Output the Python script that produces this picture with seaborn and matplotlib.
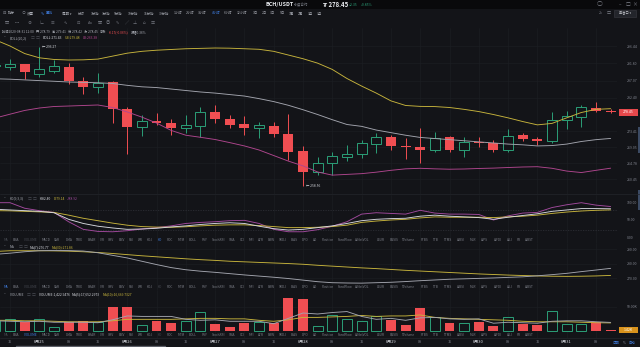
import matplotlib
matplotlib.use("Agg")
import numpy as np
import pandas as pd
import matplotlib.pyplot as plt
import matplotlib.transforms as mtransforms
from matplotlib.patches import Rectangle
from matplotlib.lines import Line2D
import seaborn as sns

# ---------------- data: BCH/USDT perpetual, 4-hour candles ----------------
start_time = "2020-08-24 12:00"
opens = [290.9, 290.84, 291.5, 288.9, 289.8, 290.8, 287.0, 285.4, 286.6, 279.4,
         274.6, 276.2, 275.7, 274.2, 274.8, 278.5, 276.6, 275.3, 274.2, 274.9,
         272.5, 268.0, 262.4, 264.9, 266.3, 267.1, 269.9, 271.7, 269.5, 269.1,
         268.3, 271.7, 268.3, 270.5, 270.3, 268.3, 272.4, 271.4, 270.8, 276.4,
         277.2, 279.6, 278.79]
highs = [291.8, 292.84, 291.7, 296.27, 292.7, 291.8, 288.1, 289.2, 286.9, 280.0,
         277.8, 278.4, 276.6, 277.8, 280.0, 280.5, 277.8, 277.5, 276.0, 276.0,
         278.0, 269.4, 266.5, 267.8, 269.6, 271.0, 272.8, 272.4, 271.5, 274.2,
         273.3, 272.0, 271.9, 271.9, 271.0, 273.9, 272.8, 271.9, 278.7, 278.9,
         280.5, 281.4, 279.41]
lows = [290.3, 289.95, 287.4, 288.1, 289.1, 286.1, 283.4, 283.6, 275.5, 267.2,
        272.2, 275.1, 272.4, 272.8, 271.9, 275.5, 274.3, 272.4, 271.6, 271.9,
        265.6, 258.56, 261.5, 261.5, 265.3, 266.0, 267.4, 268.3, 265.8, 264.7,
        267.8, 267.8, 266.5, 269.2, 267.8, 267.8, 270.7, 269.7, 270.1, 273.9,
        274.4, 278.7, 278.42]
closes = [291.4, 291.57, 289.3, 290.1, 291.0, 286.9, 285.3, 286.5, 279.3, 274.6,
          276.1, 275.7, 274.2, 275.1, 278.5, 276.6, 275.2, 274.3, 275.0, 272.6,
          267.8, 262.4, 264.9, 266.7, 267.1, 270.1, 271.9, 269.4, 269.0, 268.2,
          271.6, 268.3, 270.5, 270.3, 268.3, 272.2, 271.2, 270.8, 276.4, 277.5,
          279.9, 278.9, 278.45]
volume_k = [20, 24, 19.5, 24, 7.6, 19, 21, 18, 49, 48.5,
            12.5, 20.5, 16.5, 21, 38.4, 14, 9, 16, 19, 17,
            68, 65, 11, 33, 24, 21, 31, 22.6, 12.3, 47,
            29, 16, 16, 18.5, 10.3, 28, 13.5, 12.3, 41, 15,
            14, 19, 1.4229476]
last_volume = 1422.9476
prev_close_change = "-0.17(-0.06%)"
day_change = ("+2.35", "+0.85%")

# Bollinger (20, 2)
boll_up = [298.1, 296.44, 294.4, 293.25, 292.8, 292.65, 292.7, 292.9, 293.7, 294.5,
           295.0, 295.3, 295.5, 295.7, 295.8, 295.9, 295.85, 295.7, 295.55, 295.0,
           294.0, 293.0, 291.8, 290.1, 287.65, 285.6, 283.7, 281.6, 280.35, 280.1,
           280.05, 279.8, 279.3, 278.7, 277.9, 277.0, 276.0, 275.1, 275.5, 277.0,
           278.45, 279.3, 279.48]
boll_mid = [287.57, 287.46, 287.27, 287.08, 286.9, 286.7, 286.6, 286.5, 286.3, 285.8,
            285.4, 285.2, 284.8, 284.4, 284.0, 283.7, 283.3, 282.9, 282.2, 281.4,
            280.4, 279.2, 277.9, 276.5, 275.2, 274.7, 273.7, 273.0, 272.3, 271.7,
            271.4, 271.1, 270.8, 270.5, 270.2, 269.9, 269.7, 269.4, 269.5, 269.9,
            270.6, 271.1, 271.43]
boll_low = [276.96, 277.99, 279.0, 279.66, 280.07, 280.2, 280.34, 280.48, 279.8, 278.6,
            277.2, 275.6, 273.6, 272.3, 271.74, 271.14, 270.3, 269.4, 268.3, 266.8,
            265.3, 264.0, 262.35, 261.5, 261.7, 261.9, 262.3, 262.8, 263.2, 263.35,
            263.2, 263.1, 263.16, 263.3, 263.4, 263.56, 263.7, 263.78, 263.35, 262.6,
            262.2, 262.8, 263.38]

# KD (9, 3, 3)
kd_k = [81, 79, 77, 75, 71, 52, 40, 32, 27, 23, 24, 26, 30, 33, 37, 40, 42, 40, 32, 25,
        21, 23, 28, 33, 40, 48, 52, 54, 55, 61, 64, 61, 59, 57, 52, 58, 63, 68, 75, 79,
        83, 83, 82.40]
kd_d = [77, 76.5, 75, 73.5, 72, 64, 55, 48, 41, 35, 31, 29.5, 29, 30.5, 33, 35, 36, 36,
        34, 31, 28, 28, 29, 31, 35, 43, 47, 50, 52, 56, 59, 58, 58, 58, 57, 59, 61, 64,
        69, 73, 76, 78, 79.14]
kd_j = [100, 100, 84, 77, 72, 45, 23, 17, 16, 19, 24, 28, 33, 40, 43, 45, 48, 49, 40,
        23, 16, 16, 22, 32, 45, 67, 71, 69, 67, 78, 70, 67, 67, 66, 50, 62, 70, 72, 86,
        94, 100, 93, 88.92]

# price moving averages
ma7 = [286.5, 287.3, 288.3, 289.0, 289.2, 289.1, 288.8, 287.6, 285.8, 284.0,
       281.7, 279.4, 277.3, 275.8, 274.8, 274.0, 273.1, 272.2, 271.4, 270.6,
       269.7, 268.6, 267.5, 266.8, 266.6, 266.5, 266.8, 267.1, 267.6, 268.2,
       268.7, 269.2, 269.5, 269.8, 270.1, 270.5, 270.9, 271.6, 272.4, 273.3,
       274.5, 275.6, 276.77]
ma30 = [288.5, 289.0, 289.0, 289.0, 288.9, 288.7, 288.3, 287.8, 287.1, 286.3,
        285.5, 284.8, 284.1, 283.4, 282.8, 282.3, 281.7, 281.3, 280.9, 280.5,
        280.1, 279.6, 278.9, 278.3, 277.7, 277.1, 276.6, 276.0, 275.4, 274.9,
        274.4, 273.9, 273.4, 272.9, 272.5, 272.1, 271.8, 271.5, 271.3, 271.2,
        271.3, 271.5, 271.86]

# volume moving averages (thousands)
vol_ma5 = [21, 20, 19, 20, 18, 18, 18, 17, 23, 31, 30, 30, 30, 24, 22, 23, 20, 20, 20,
           15, 26, 37, 35, 38, 40, 30, 24, 26, 22, 27, 28, 25, 24, 25, 16, 18, 17, 16,
           20, 21, 21, 19, 17.6522973]
vol_ma10 = [22, 22, 21, 21, 20, 19, 19, 19, 21, 24, 24, 24, 24, 25, 26, 26, 25, 25, 22,
            20, 23, 28, 28, 29, 30, 32, 30, 31, 31, 33, 28, 26, 25, 24, 23, 22, 20, 19,
            19, 19, 18, 17, 16.6697327]

price_ticks = [296.44, 291.80, 287.07, 282.40, 273.41, 269.05, 264.78, 260.45]
kd_ticks = [0, 50, 100]
ma_ticks = [270, 280, 290]
vol_ticks = [50]

periods = ["分时", "1分钟", "3分钟", "5分钟", "10分钟", "15分钟", "30分钟", "1小时",
           "2小时", "3小时", "4小时", "6小时", "12小时", "1日", "2日", "3日", "5日",
           "1周", "2周", "1月", "3月"]
active_period = "4小时"
indicator_tabs = ["MA", "EMA", "VOLUME", "MACD", "SAR", "DMA", "TRIX", "BRAR", "VR",
                  "OBV", "EMV", "RSI", "WR", "KDJ", "KD", "ROC", "MTM", "BOLL", "PSY",
                  "StochRSI", "SMA", "CCI", "MFI", "ATR", "BBW", "SKDJ", "BIAS", "DPO",
                  "AO", "Position", "FundFlow", "ArNetVOL", "LSUR", "BASIS", "TVolume",
                  "FTBS", "TTB", "TTMS", "AIBSI", "MLR", "AIPS", "AIFDI", "AILI", "FR",
                  "AIBST"]

# ---------------- layout / style ----------------
W, H = 640, 347
PLOT_RIGHT = 617
BG = "#131418"
TOPBAR = "#09090b"
GRID = "#1c1e23"
TXT = "#80838d"
DIM = "#474a52"
WHITE = "#d6d8de"
LIGHT = "#a9acb4"
RED = "#f04e52"
GREEN = "#2b9f77"
YEL = "#c7b43c"
MID = "#a3a5ae"
MAG = "#b0468e"
JCOL = "#a24a9e"
BLUE = "#3f7de0"
ORANGE = "#d9931d"

tab_x = [5.7, 15.5, 30.6, 45.7, 57, 68.6, 79.6, 91.4, 101.6, 110.6, 121.6, 131.4,
         140, 149.8, 160, 169.8, 181.2, 193, 204.5, 218.4, 231.8, 242.4, 251.8, 260.8,
         271, 282.4, 293.9, 304.9, 315, 327.8, 344.9, 362.4, 380.4, 393.9, 408.2,
         424.5, 435.9, 448.2, 461.2, 472.7, 484.5, 498, 509.4, 518.4, 529.8]
period_x = [81.5, 94.5, 106.5, 118.5, 133, 149, 164, 178, 190.5, 202.5, 216.5, 228.5,
            242, 255.5, 264, 273, 282, 291, 300.5, 310, 320]

sns.set_theme(style="dark")
FAM = ["Noto Sans CJK SC", "DejaVu Sans"]
plt.rcParams["font.family"] = FAM
plt.rcParams["axes.unicode_minus"] = False

n = len(opens)
pos = np.arange(n) - 1          # first candle is clipped by the left edge
times = pd.date_range(start_time, periods=n, freq="4h")
XLIM = ((0 - 10) / 14.65, (PLOT_RIGHT - 10) / 14.65)

fig = plt.figure(figsize=(W / 100, H / 100), dpi=100, facecolor=BG)
renderer = fig.canvas.get_renderer()


def label(x, y, s, size=2.4, color=TXT, ha="left", weight="normal", **kw):
    return fig.text(x / W, 1 - y / H, s, fontsize=size, color=color, ha=ha,
                    va="center", fontweight=weight, family=FAM, **kw)


def row(x, y, parts, size=2.3, gap=2.5):
    """Lay out coloured text pieces one after another along a line."""
    for s, c in parts:
        t = label(x, y, s, size, c)
        x = t.get_window_extent(renderer).x1 + gap
    return x


def pane(top, bottom, ylim):
    ax = fig.add_axes([0, 1 - bottom / H, PLOT_RIGHT / W, (bottom - top) / H])
    ax.set_facecolor(BG)
    ax.set_xlim(XLIM)
    ax.set_ylim(ylim)
    for s in ax.spines.values():
        s.set_visible(False)
    ax.yaxis.tick_right()
    ax.tick_params(axis="y", length=0, labelsize=2.5, labelcolor=TXT, pad=7)
    ax.tick_params(axis="x", length=0, labelbottom=False)
    ax.set_xticks(np.arange(0, 42, 2))
    ax.grid(True, color=GRID, lw=0.45)
    ax.set_axisbelow(True)
    return ax


def line(ax, values, color, lw=0.65):
    sns.lineplot(x=pos, y=values, ax=ax, color=color, linewidth=lw, legend=False,
                 estimator=None, sort=False, zorder=4)
    ax.set_xlabel("")
    ax.set_ylabel("")


def right_box(ax, value, text, face, half_h, txtcolor="white"):
    tr = mtransforms.blended_transform_factory(ax.transAxes, ax.transData)
    x0 = 619 / PLOT_RIGHT
    x1 = 638 / PLOT_RIGHT
    ax.add_patch(Rectangle((x0, value - half_h), x1 - x0, 2 * half_h, transform=tr,
                           facecolor=face, edgecolor="none", clip_on=False, zorder=6))
    ax.text((x0 + x1) / 2, value, text, transform=tr, ha="center", va="center",
            fontsize=2.5, color=txtcolor, clip_on=False, zorder=7)


# top title bar
fig.add_artist(Rectangle((0, 1 - 9 / H), 1, 9 / H, transform=fig.transFigure,
                         facecolor=TOPBAR, edgecolor="none"))

# ---------------- main pane: candles + BOLL ----------------
ax = pane(28, 194, (308.89 - 0.2706 * 194, 308.89 - 0.2706 * 28))
ax.set_yticks(price_ticks)
ax.set_yticklabels([f"{v:.2f}" for v in price_ticks])
for x, o, h, l, c in zip(pos, opens, highs, lows, closes):
    up = c >= o
    col = GREEN if up else RED
    ax.vlines(x, l, h, color=col, lw=0.7, zorder=2)
    lo, hi = min(o, c), max(o, c)
    ax.bar(x, max(hi - lo, 0.18), bottom=lo, width=0.68,
           color=BG if up else RED, edgecolor=col,
           linewidth=0.7 if up else 0, zorder=3)
line(ax, boll_up, YEL)
line(ax, boll_mid, MID)
line(ax, boll_low, MAG)

hi_i = int(np.argmax(highs))
lo_i = int(np.argmin(lows))
ax.text(pos[hi_i] + 0.2, highs[hi_i], f"← {highs[hi_i]:.2f}", fontsize=2.4,
        color=WHITE, va="center", ha="left", zorder=6)
ax.text(pos[lo_i] + 0.2, lows[lo_i], f"← {lows[lo_i]:.2f}", fontsize=2.4,
        color=WHITE, va="center", ha="left", zorder=6)
right_box(ax, closes[-1], f"{closes[-1]:.2f}", "#e5484b", 0.85)

# ---------------- KD pane ----------------
ax_kd = pane(195, 243, ((237.3 - 243) * 2.89, (237.3 - 195) * 2.89))
ax_kd.set_yticks(kd_ticks)
ax_kd.set_yticklabels([f"{v:.2f}" for v in kd_ticks])
ax_kd.grid(False, axis="y")
for lvl in (20, 80):
    ax_kd.axhline(lvl, color="#34363d", lw=0.45, ls=(0, (2, 2)), zorder=1)
line(ax_kd, kd_j, JCOL)
line(ax_kd, kd_d, YEL)
line(ax_kd, kd_k, WHITE)

# ---------------- MA pane ----------------
ax_ma = pane(243, 290, (280 - (290 - 263.7) / 1.44, 280 - (243 - 263.7) / 1.44))
ax_ma.set_yticks(ma_ticks)
ax_ma.set_yticklabels([f"{v:.2f}" for v in ma_ticks])
line(ax_ma, ma30, YEL)
line(ax_ma, ma7, MID)

# ---------------- volume pane ----------------
ax_v = pane(290, 338, ((331 - 338) / 0.486, (331 - 290) / 0.486))
ax_v.set_yticks(vol_ticks)
ax_v.set_yticklabels([f"{v:.2f}K" for v in vol_ticks])
for x, o, c, v in zip(pos, opens, closes, volume_k):
    up = c >= o
    col = GREEN if up else RED
    ax_v.bar(x, v, bottom=0, width=0.68, color=BG if up else RED, edgecolor=col,
             linewidth=0.7 if up else 0, zorder=3)
line(ax_v, vol_ma10, YEL)
line(ax_v, vol_ma5, MID)
right_box(ax_v, volume_k[-1], f"{volume_k[-1]:.2f}K", ORANGE, 6.2)

# ---------------- time axis ----------------
ax_t = fig.add_axes([0, 0, PLOT_RIGHT / W, 9 / H])
ax_t.set_facecolor(BG)
ax_t.set_xlim(XLIM)
ax_t.set_ylim(0, 1)
ax_t.axis("off")
for x, t in zip(pos, times):
    if t.hour == 0:
        ax_t.text(x, 0.55, f"{t.month}月{t.day}", fontsize=2.9, color=WHITE,
                  ha="center", va="center", family=FAM)
    elif t.hour in (8, 16):
        ax_t.text(x, 0.55, f"{t.hour:02d}", fontsize=2.7, color=TXT,
                  ha="center", va="center", family=FAM)
fig.add_artist(Line2D([16 / W, 165 / W], [1 - 345.8 / H] * 2, color="#5d6068",
                      lw=1.0, transform=fig.transFigure))
label(616, 342.5, "日期", 2.4, BLUE, ha="center")
label(624, 342.5, "%", 2.4, TXT, ha="center")
label(632, 342.5, "自动", 2.4, BLUE, ha="center")

# pane separators and scroll markers on the right edge
for y in (194.5, 337.5):
    fig.add_artist(Line2D([0, 1], [1 - y / H] * 2, color="#24262c", lw=0.5,
                          transform=fig.transFigure))
for y0, y1 in ((127, 153), (190, 210)):
    fig.add_artist(Rectangle((637.5 / W, 1 - y1 / H), 2.5 / W, (y1 - y0) / H,
                             transform=fig.transFigure, facecolor="#3b4a63",
                             edgecolor="none"))

# ---------------- header rows ----------------
label(266, 4.6, "BCH/USDT", 3.9, "#eceef2", weight="bold")
label(294, 4.8, "永续合约", 2.6, TXT)
label(323, 4.6, f"₮ {closes[-1]:.2f}", 4.3, "#eceef2", weight="bold")
label(349, 4.8, day_change[0], 2.5, GREEN)
label(361, 4.8, day_change[1], 2.5, GREEN)
label(600, 4.6, "○", 4.2, TXT, ha="center")
label(620, 4.6, "–", 3.4, TXT, ha="center")
label(627.5, 4.6, "□", 3.4, TXT, ha="center")
label(635, 4.6, "×", 3.6, TXT, ha="center")

label(2.5, 13.5, "⊟", 3.0, TXT)
label(8, 13.5, "指标", 2.5, LIGHT)
label(21.5, 13.5, "⊙", 3.0, TXT)
label(27, 13.5, "设置", 2.5, LIGHT)
label(41, 13.5, "✎", 3.0, BLUE)
label(46, 13.5, "画线", 2.5, BLUE)
label(62, 13.5, "周期 ▾", 2.5, LIGHT)
for x, p in zip(period_x, periods):
    label(x, 13.5, p, 2.4, BLUE if p == active_period else "#a2a5ad", ha="center")
label(601, 13.5, "2x", 2.5, TXT, ha="center")
label(608.5, 13.5, "□", 3.0, TXT, ha="center")
fig.add_artist(Rectangle((614 / W, 1 - 17 / H), 22 / W, 7 / H, transform=fig.transFigure,
                         facecolor="#23252b", edgecolor="#3a3c43", lw=0.4))
label(625, 13.5, "单窗口 ▾", 2.3, "#c4c6cc", ha="center")

tool_icons = ["▤", "┄", "⊕", "∟", "☰", "∿", "⊡", "Aa", "▦", "◎", "✎", "╱", "⊥", "⌂", "▥"]
tool_x = [7, 17, 30, 41, 53, 65, 78, 90, 100, 108, 117, 127, 135, 144, 153]
for x, g in zip(tool_x, tool_icons):
    label(x, 23, g, 3.0, "#6f727b", ha="center")

# candle info line
amp = (highs[-1] - lows[-1]) / opens[-1] * 100
row(2, 32.3, [(f"时间{times[-1]:%Y-%m-%d %H:%M}", LIGHT),
              (f"开 {opens[-1]:.2f}", LIGHT),
              (f"高 {highs[-1]:.2f}", LIGHT),
              (f"低 {lows[-1]:.2f}", LIGHT),
              (f"收 {closes[-1]:.2f}", LIGHT),
              ("涨跌", LIGHT),
              (prev_close_change, RED),
              (f"振幅{amp:.2f}%", LIGHT)], size=2.3, gap=2.2)


def pane_legend(y, name, items):
    label(4, y, "˅", 2.6, TXT)
    x = row(10, y, [(name, LIGHT)], size=2.4)
    x = row(x + 1, y, [("□", DIM), ("□", DIM)], size=2.8, gap=1.0)
    row(x + 2, y, items, size=2.4, gap=2.5)


pane_legend(38.3, "BOLL(20,2)",
            [(f"BOLL:{boll_mid[-1]:.2f}", WHITE),
             (f"UB:{boll_up[-1]:.2f}", YEL),
             (f"LB:{boll_low[-1]:.2f}", MAG)])
pane_legend(198.5, "KD(9,3,3)",
            [(f"K:{kd_k[-1]:.2f}", WHITE),
             (f"D:{kd_d[-1]:.2f}", YEL),
             (f"J:{kd_j[-1]:.2f}", JCOL)])
pane_legend(246.8, "MA",
            [(f"MA(7):{ma7[-1]:.2f}", WHITE),
             (f"MA(30):{ma30[-1]:.2f}", YEL)])
pane_legend(294.5, "VOLUME",
            [(f"VOLUME:{last_volume:,.4f}", WHITE),
             (f"MA(5):{vol_ma5[-1] * 1000:,.4f}", WHITE),
             (f"MA(10):{vol_ma10[-1] * 1000:,.4f}", YEL)])

# indicator tab rows under each sub pane
for y, active in ((240, "KD"), (287.3, "MA"), (335, "VOLUME")):
    for x, t in zip(tab_x, indicator_tabs):
        if t == active:
            col = BLUE
        elif t in ("KD", "MA", "VOLUME"):
            col = DIM
        else:
            col = "#7c7f88"
        label(x, y, t, 2.3, col, ha="center")

fig.savefig("out.png", dpi=100, facecolor=BG)
